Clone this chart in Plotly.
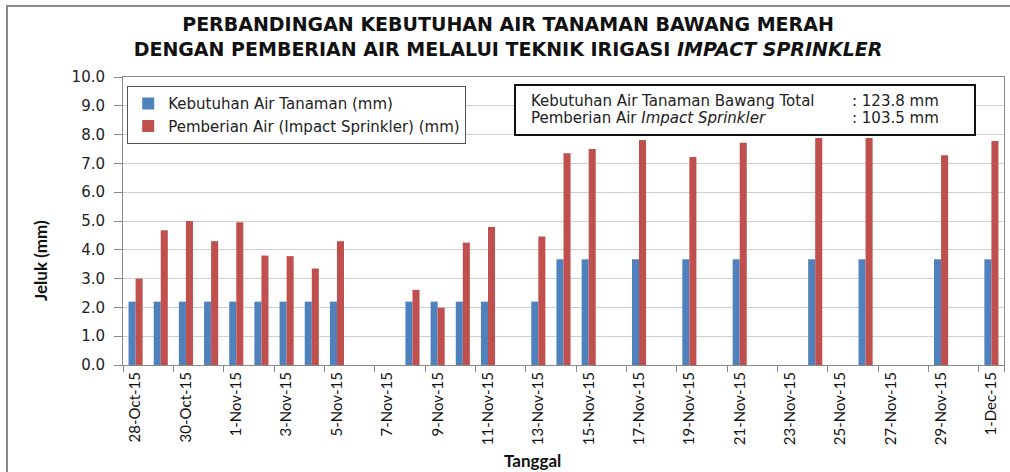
import plotly.graph_objects as go

dates = ["28-Oct-15", "29-Oct-15", "30-Oct-15", "31-Oct-15", "1-Nov-15", "2-Nov-15",
         "3-Nov-15", "4-Nov-15", "5-Nov-15", "6-Nov-15", "7-Nov-15", "8-Nov-15",
         "9-Nov-15", "10-Nov-15", "11-Nov-15", "12-Nov-15", "13-Nov-15", "14-Nov-15",
         "15-Nov-15", "16-Nov-15", "17-Nov-15", "18-Nov-15", "19-Nov-15", "20-Nov-15",
         "21-Nov-15", "22-Nov-15", "23-Nov-15", "24-Nov-15", "25-Nov-15", "26-Nov-15",
         "27-Nov-15", "28-Nov-15", "29-Nov-15", "30-Nov-15", "1-Dec-15"]

kebutuhan = [2.2, 2.2, 2.2, 2.2, 2.2, 2.2, 2.2, 2.2, 2.2, None, None, 2.2,
             2.2, 2.2, 2.2, None, 2.2, 3.67, 3.67, None, 3.67, None, 3.67, None,
             3.67, None, None, 3.67, None, 3.67, None, None, 3.67, None, 3.67]

pemberian = [3.0, 4.68, 5.0, 4.3, 4.96, 3.8, 3.78, 3.35, 4.3, None, None, 2.61,
             1.99, 4.25, 4.79, None, 4.46, 7.35, 7.5, None, 7.81, None, 7.22, None,
             7.72, None, None, 7.88, None, 7.88, None, None, 7.28, None, 7.78]

tick_labels = dates[::2]
y_ticks = [0, 1, 2, 3, 4, 5, 6, 7, 8, 9, 10]

fig = go.Figure()
fig.add_trace(go.Bar(x=dates, y=kebutuhan, name="Kebutuhan Air Tanaman (mm)",
                     marker=dict(color="#4F81BD", line=dict(width=0))))
fig.add_trace(go.Bar(x=dates, y=pemberian, name="Pemberian Air (Impact Sprinkler) (mm)",
                     marker=dict(color="#C0504D", line=dict(width=0))))

L, R, T, B = 123, 6, 77, 107
W, H = 1010, 472
pw = W - L - R
ph = H - T - B

def px(x):
    return (x - L) / pw

def py(y):
    return (H - B - y) / ph

fig.update_layout(
    width=W, height=H,
    margin=dict(l=L, r=R, t=T, b=B),
    paper_bgcolor="white", plot_bgcolor="white",
    barmode="group", bargap=0.44, bargroupgap=0,
    font=dict(family="DejaVu Sans", size=15, color="#222"),
    title=dict(
        text="PERBANDINGAN KEBUTUHAN AIR TANAMAN BAWANG MERAH<br>DENGAN PEMBERIAN AIR MELALUI TEKNIK IRIGASI <i>IMPACT SPRINKLER</i>",
        x=0.503, xref="container", xanchor="center",
        y=1 - 31 / H, yref="container", yanchor="middle",
        font=dict(family="DejaVu Sans", size=19, color="#111", weight="bold"),
    ),
    showlegend=True,
    legend=dict(
        x=px(127), y=py(86), xanchor="left", yanchor="top",
        bgcolor="white", bordercolor="#555", borderwidth=1.2,
        font=dict(family="DejaVu Sans", size=15, color="#222"),
        traceorder="normal",
    ),
    xaxis=dict(
        type="category", categoryorder="array", categoryarray=dates,
        tickmode="array", tickvals=tick_labels, ticktext=tick_labels,
        tickangle=-90, tickson="boundaries", ticks="outside", ticklen=6,
        tickcolor="#888",
        tickfont=dict(family="Lato", size=15, color="#111"),
        showline=True, linecolor="#8a8a8a", linewidth=1, mirror=True,
        showgrid=False,
    ),
    yaxis=dict(
        range=[0, 10], tickvals=y_ticks, tickformat=".1f",
        ticks="outside", ticklen=8, tickcolor="#888", ticklabelstandoff=6,
        tickfont=dict(family="DejaVu Sans", size=15, color="#222"),
        showline=True, linecolor="#8a8a8a", linewidth=1, mirror=True,
        showgrid=True, gridcolor="#cfcfcf", gridwidth=1,
        zeroline=False,
    ),
)

# axis titles
fig.add_annotation(text="<b>Jeluk (mm)</b>", xref="paper", yref="paper",
                   x=px(40), y=py(261), xanchor="center", yanchor="middle",
                   textangle=-90, showarrow=False,
                   font=dict(family="Lato", size=17, color="#111"))
fig.add_annotation(text="<b>Tanggal</b>", xref="paper", yref="paper",
                   x=px(532), y=py(460), xanchor="center", yanchor="middle",
                   showarrow=False,
                   font=dict(family="Lato", size=17, color="#111"))

# outer chart frame
fig.add_shape(type="rect", xref="paper", yref="paper",
              x0=px(7), x1=px(1015), y0=py(480), y1=py(6),
              line=dict(color="#8a8a8a", width=2), layer="below")

# summary box
fig.add_shape(type="rect", xref="paper", yref="paper",
              x0=px(515), x1=px(975), y0=py(135), y1=py(85),
              line=dict(color="#111", width=2), fillcolor="white", layer="above")

summary_labels = ["Kebutuhan Air Tanaman Bawang Total", "Pemberian Air <i>Impact Sprinkler</i>"]
summary_values = [": 123.8 mm", ": 103.5 mm"]
rows_y = [101, 118]
for lab, val, yy in zip(summary_labels, summary_values, rows_y):
    fig.add_annotation(text=lab, xref="paper", yref="paper", x=px(529), y=py(yy),
                       xanchor="left", yanchor="middle", showarrow=False,
                       font=dict(family="DejaVu Sans", size=15, color="#222"))
    fig.add_annotation(text=val, xref="paper", yref="paper", x=px(850), y=py(yy),
                       xanchor="left", yanchor="middle", showarrow=False,
                       font=dict(family="DejaVu Sans", size=15, color="#222"))

fig.write_html("out.html", config={"displayModeBar": False},
               post_script="document.body.style.margin='0px';")
